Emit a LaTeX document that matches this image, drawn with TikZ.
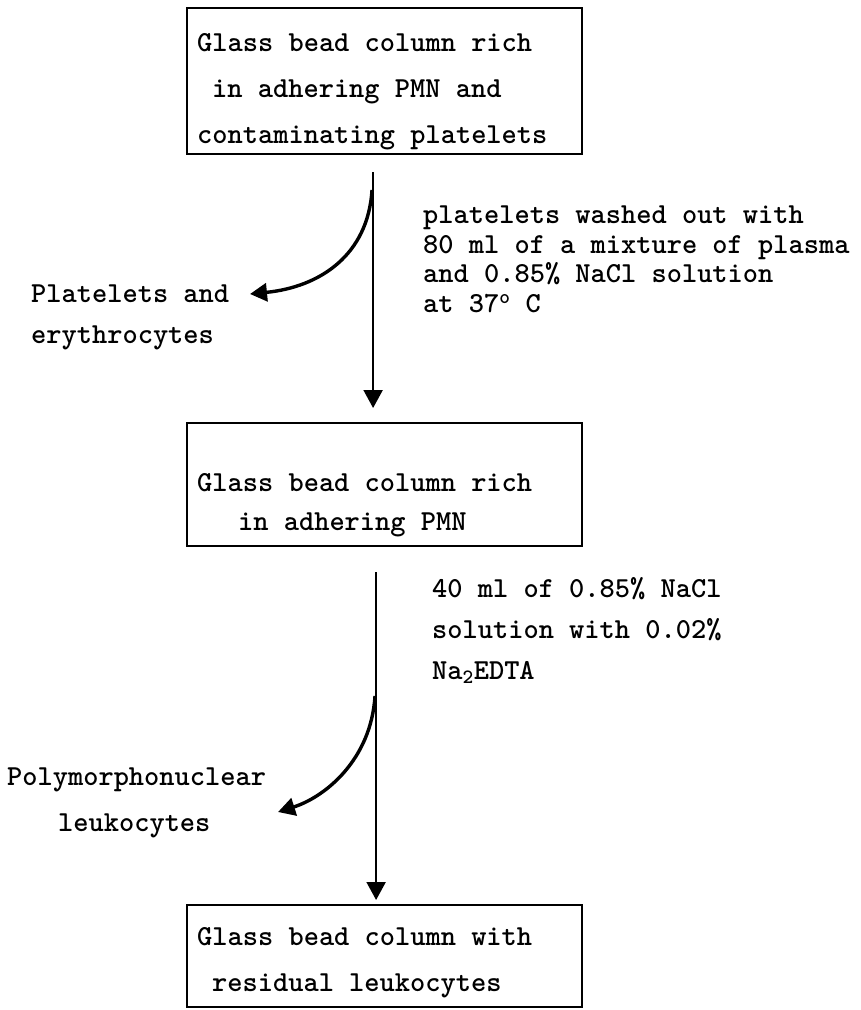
\documentclass[tikz,border=0pt]{standalone}
\usetikzlibrary{arrows.meta}
\begin{document}
\begin{tikzpicture}[x=1pt,y=-1pt,
  stagebox/.style={draw, line width=2.2pt, inner sep=0pt, anchor=north west, minimum width=395pt},
  boxtext/.style={anchor=north west, inner sep=0pt, align=left, font=\ttfamily\bfseries\fontsize{29}{46}\selectfont},
  sidetext/.style={anchor=north west, inner sep=0pt, align=left, font=\ttfamily\bfseries\fontsize{29}{29.5}\selectfont},
  flow/.style={line width=2.2pt, -{Triangle[length=18pt,width=19pt]}},
  branch/.style={line width=3.4pt, -{Triangle[length=17pt,width=18pt]}}]
\useasboundingbox (0,0) rectangle (860,1010);

% column stages
\node[stagebox, minimum height=146pt] (box1) at (186,7) {};
\node[stagebox, minimum height=123pt] (box2) at (186,422) {};
\node[stagebox, minimum height=102pt] (box3) at (186,904) {};

\node[boxtext] (t1) at (197,33) {Glass bead column rich\\\hspace*{15pt}in adhering PMN and\\contaminating platelets};
\node[boxtext, font=\ttfamily\bfseries\fontsize{29}{39}\selectfont] (t2) at (197,473) {Glass bead column rich\\\hspace*{41pt}in adhering PMN};
\node[boxtext] (t3) at (197,927) {Glass bead column with\\\hspace*{15pt}residual leukocytes};

% main flow
\draw[flow, shorten <=17pt, shorten >=14pt] ([xshift=-11.5pt]box1.south) -- ([xshift=-11.5pt]box2.north);
\draw[flow, shorten <=25pt, shorten >=4pt] ([xshift=-8.5pt]box2.south) -- ([xshift=-8.5pt]box3.north);

% washing conditions
\node[sidetext] (w1) at (423,206) {platelets washed out with\\80 ml of a mixture of plasma\\and 0.85\% NaCl solution\\at 37\textsuperscript{o} C};
\node[sidetext, font=\ttfamily\bfseries\fontsize{29}{41}\selectfont] (w2) at (432,577) {40 ml of 0.85\% NaCl\\solution with 0.02\%\\Na\textsubscript{2}EDTA};

% eluted fractions
\node[sidetext, font=\ttfamily\bfseries\fontsize{29}{41}\selectfont] (e1) at (31,285) {Platelets and\\erythrocytes};
\node[sidetext, font=\ttfamily\bfseries\fontsize{29}{46}\selectfont] (e2) at (7,768) {Polymorphonuclear\\\hspace*{51pt}leukocytes};

\coordinate (fork1) at (372,190);
\coordinate (out1) at (250,294);
\coordinate (fork2) at (375,696);
\coordinate (out2) at (278,812);
\draw[branch] (fork1) .. controls (368,255) and (320,287) .. (out1);
\draw[branch] (fork2) .. controls (371,760) and (325,797) .. (out2);
\end{tikzpicture}
\end{document}
